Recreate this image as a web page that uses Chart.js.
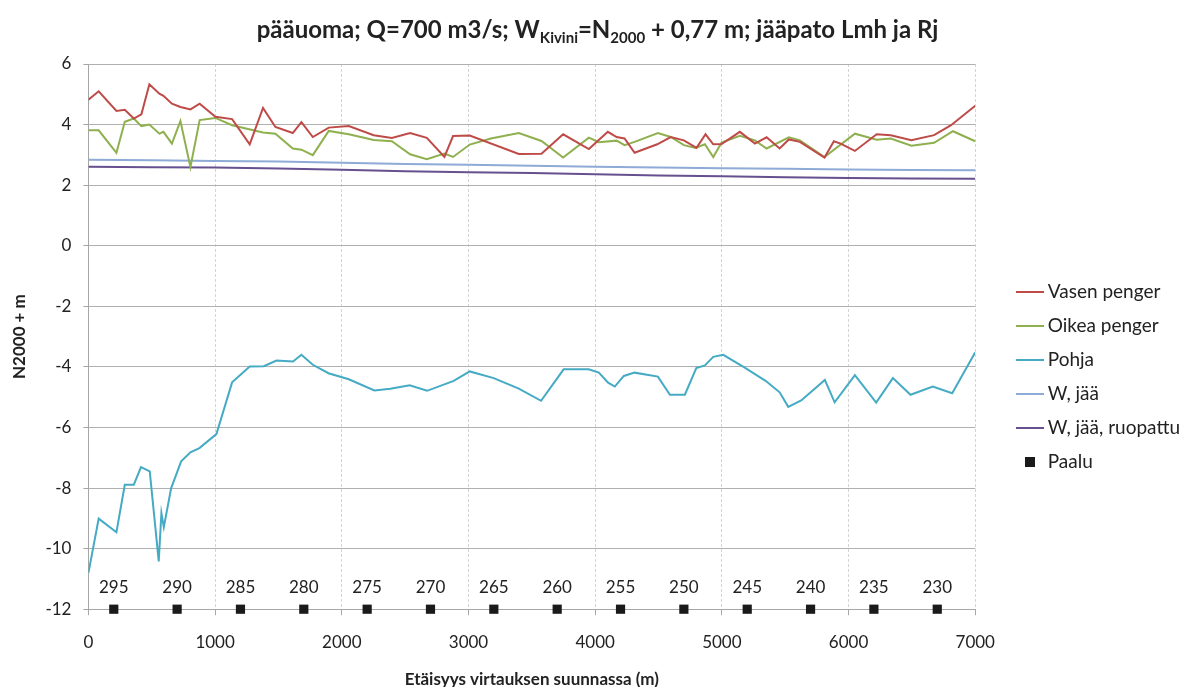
<!DOCTYPE html>
<html>
<head>
<meta charset="utf-8">
<script src="https://cdn.jsdelivr.net/npm/chart.js@4.4.1/dist/chart.umd.min.js"></script>
<style>
    html, body { margin: 0; padding: 0; background: #fff; }
    #wrap { width: 1183px; height: 687px; }
</style>
</head>
<body>
<div id="wrap"><canvas id="profileChart" width="1183" height="687"></canvas></div>
<script>
var vasenX = [0, 81, 221, 287, 358, 418, 481, 560, 592, 659, 726, 805, 878, 1002, 1134, 1273, 1378, 1476, 1613, 1681, 1771, 1897, 2055, 2252, 2395, 2539, 2671, 2810, 2878, 3010, 3397, 3576, 3747, 3950, 4100, 4169, 4232, 4311, 4490, 4596, 4700, 4800, 4871, 4932, 4998, 5142, 5261, 5353, 5456, 5529, 5616, 5810, 5884, 5937, 6050, 6222, 6333, 6496, 6675, 6809, 7000];
var vasenY = [4.82, 5.10, 4.45, 4.49, 4.20, 4.34, 5.33, 5.02, 4.95, 4.69, 4.58, 4.50, 4.69, 4.26, 4.18, 3.35, 4.55, 3.92, 3.72, 4.08, 3.59, 3.90, 3.95, 3.65, 3.56, 3.72, 3.56, 2.93, 3.62, 3.64, 3.03, 3.04, 3.68, 3.19, 3.76, 3.59, 3.54, 3.07, 3.35, 3.59, 3.48, 3.23, 3.68, 3.35, 3.36, 3.76, 3.37, 3.58, 3.21, 3.51, 3.43, 2.91, 3.45, 3.37, 3.13, 3.68, 3.65, 3.48, 3.65, 3.98, 4.62];

var oikeaX = [0, 81, 221, 287, 358, 418, 481, 560, 592, 659, 726, 805, 878, 1002, 1134, 1378, 1476, 1613, 1681, 1771, 1897, 2055, 2252, 2395, 2539, 2671, 2810, 2878, 3010, 3176, 3397, 3576, 3747, 3950, 4029, 4169, 4232, 4311, 4495, 4596, 4700, 4792, 4866, 4932, 4998, 5142, 5261, 5353, 5529, 5616, 5810, 6050, 6222, 6333, 6496, 6675, 6824, 7000];
var oikeaY = [3.81, 3.81, 3.07, 4.09, 4.20, 3.95, 4.00, 3.70, 3.76, 3.37, 4.12, 2.60, 4.15, 4.22, 3.98, 3.74, 3.70, 3.21, 3.17, 2.99, 3.79, 3.68, 3.49, 3.45, 3.02, 2.86, 3.04, 2.93, 3.34, 3.54, 3.72, 3.46, 2.91, 3.57, 3.42, 3.47, 3.32, 3.43, 3.72, 3.59, 3.32, 3.23, 3.35, 2.93, 3.41, 3.63, 3.48, 3.21, 3.58, 3.48, 2.93, 3.70, 3.50, 3.54, 3.30, 3.40, 3.78, 3.45];

var pohjaX = [0, 81, 221, 287, 358, 415, 484, 555, 576, 595, 653, 732, 805, 876, 1010, 1134, 1273, 1384, 1484, 1615, 1681, 1771, 1895, 2055, 2257, 2383, 2536, 2673, 2883, 3010, 3199, 3397, 3573, 3751, 3948, 4029, 4102, 4155, 4226, 4311, 4495, 4590, 4708, 4798, 4866, 4932, 5011, 5174, 5345, 5456, 5524, 5626, 5813, 5890, 6050, 6218, 6350, 6489, 6665, 6818, 7000];
var pohjaY = [-10.80, -9.01, -9.46, -7.89, -7.89, -7.31, -7.45, -10.42, -8.83, -9.29, -8.00, -7.12, -6.82, -6.68, -6.22, -4.51, -3.99, -3.98, -3.79, -3.82, -3.60, -3.93, -4.21, -4.41, -4.78, -4.72, -4.61, -4.79, -4.46, -4.15, -4.37, -4.72, -5.12, -4.08, -4.08, -4.19, -4.52, -4.65, -4.30, -4.19, -4.32, -4.92, -4.92, -4.04, -3.95, -3.67, -3.60, -4.01, -4.46, -4.84, -5.32, -5.11, -4.43, -5.17, -4.27, -5.18, -4.37, -4.92, -4.65, -4.87, -3.52];

var jaaX = [0, 500, 1000, 1500, 2000, 2500, 3000, 3500, 4000, 4500, 5000, 5500, 6000, 6500, 7000];
var jaaY = [2.84, 2.82, 2.80, 2.78, 2.74, 2.70, 2.67, 2.64, 2.61, 2.58, 2.56, 2.54, 2.52, 2.50, 2.49];
var ruopattuY = [2.61, 2.59, 2.58, 2.55, 2.51, 2.46, 2.43, 2.40, 2.36, 2.32, 2.29, 2.26, 2.24, 2.22, 2.21];

var paaluX = [200, 700, 1200, 1700, 2200, 2700, 3200, 3700, 4200, 4700, 5200, 5700, 6200, 6700];
var paaluY = [-12, -12, -12, -12, -12, -12, -12, -12, -12, -12, -12, -12, -12, -12];
var paaluLabels = ['295', '290', '285', '280', '275', '270', '265', '260', '255', '250', '245', '240', '235', '230'];

var FONT = 'Lato, "Open Sans", sans-serif';
var TEXT = '#222222';

function toPoints(xs, ys) {
    return xs.map(function (x, i) { return { x: x, y: ys[i] }; });
}

function legendIcon(ds) {
    var c = document.createElement('canvas');
    var g;
    if (ds.label === 'Paalu') {
        c.width = 10; c.height = 10;
        g = c.getContext('2d');
        g.fillStyle = '#1a1a1a';
        g.fillRect(0, 0, 10, 10);
    } else {
        c.width = 28; c.height = 4;
        g = c.getContext('2d');
        g.fillStyle = ds.borderColor;
        g.fillRect(0, 1, 28, 2);
    }
    return c;
}

// title with subscripts
var titlePlugin = {
    id: 'subTitle',
    afterDraw: function (chart) {
        var ctx = chart.ctx;
        var parts = [
            { t: 'pääuoma; Q=700 m3/s; W', sub: false },
            { t: 'Kivini', sub: true },
            { t: '=N', sub: false },
            { t: '2000', sub: true },
            { t: ' + 0,77 m; jääpato Lmh ja Rj', sub: false }
        ];
        var mainFont = 'bold 24px ' + FONT;
        var subFont = 'bold 15px ' + FONT;
        ctx.save();
        var total = 0;
        parts.forEach(function (p) {
            ctx.font = p.sub ? subFont : mainFont;
            p.w = ctx.measureText(p.t).width;
            total += p.w;
        });
        var x = chart.width / 2 - total / 2 + 6;
        var base = 38;
        ctx.fillStyle = TEXT;
        ctx.textBaseline = 'alphabetic';
        ctx.textAlign = 'left';
        parts.forEach(function (p) {
            ctx.font = p.sub ? subFont : mainFont;
            ctx.fillText(p.t, x, p.sub ? base + 5 : base);
            x += p.w;
        });
        ctx.restore();
    }
};

var paaluLabelPlugin = {
    id: 'paaluLabels',
    afterDatasetsDraw: function (chart) {
        var ctx = chart.ctx;
        var idx = chart.data.datasets.findIndex(function (d) { return d.label === 'Paalu'; });
        var meta = chart.getDatasetMeta(idx);
        ctx.save();
        ctx.font = '17px ' + FONT;
        ctx.fillStyle = TEXT;
        ctx.textAlign = 'center';
        ctx.textBaseline = 'middle';
        meta.data.forEach(function (pt, i) {
            ctx.fillText(paaluLabels[i], pt.x, pt.y - 22);
        });
        ctx.restore();
    }
};

function lineSet(label, xs, ys, color) {
    return {
        label: label,
        data: toPoints(xs, ys),
        borderColor: color,
        backgroundColor: color,
        borderWidth: 2,
        pointRadius: 0,
        tension: 0,
        fill: false
    };
}

var ctx = document.getElementById('profileChart').getContext('2d');
var profileChart = new Chart(ctx, {
    type: 'line',
    data: {
        datasets: [
            lineSet('Vasen penger', vasenX, vasenY, '#be4b48'),
            lineSet('Oikea penger', oikeaX, oikeaY, '#8fb04e'),
            lineSet('Pohja', pohjaX, pohjaY, '#45aac4'),
            lineSet('W, jää', jaaX, jaaY, '#8eaad6'),
            lineSet('W, jää, ruopattu', jaaX, ruopattuY, '#66508f'),
            {
                label: 'Paalu',
                data: toPoints(paaluX, paaluY),
                showLine: false,
                pointStyle: 'rect',
                pointRadius: 6.5,
                borderWidth: 0,
                backgroundColor: '#1a1a1a',
                borderColor: '#1a1a1a',
                clip: false
            }
        ]
    },
    options: {
        responsive: false,
        animation: false,
        layout: {
            padding: { top: 64, left: 9, right: -7, bottom: -3 }
        },
        scales: {
            x: {
                type: 'linear',
                min: 0,
                max: 7000,
                ticks: {
                    stepSize: 1000,
                    color: TEXT,
                    font: { family: FONT, size: 17 },
                    padding: 17,
                    maxRotation: 0,
                    callback: function (value) { return String(value); }
                },
                grid: {
                    color: '#d4d4d4',
                    tickColor: '#a6a6a6',
                    tickLength: 6
                },
                border: { display: true, color: '#a6a6a6', dash: [3, 2] },
                title: {
                    display: true,
                    text: 'Etäisyys virtauksen suunnassa (m)',
                    color: TEXT,
                    font: { family: FONT, size: 17, weight: 'bold' },
                    padding: { top: 0, bottom: 0 }
                }
            },
            y: {
                min: -12,
                max: 6,
                ticks: {
                    stepSize: 2,
                    color: TEXT,
                    font: { family: FONT, size: 17 },
                    padding: 12
                },
                grid: {
                    color: '#b0b0b0',
                    tickColor: '#a6a6a6',
                    tickLength: 5
                },
                border: { display: true, color: '#a6a6a6' },
                title: {
                    display: true,
                    text: 'N2000 + m',
                    color: TEXT,
                    font: { family: FONT, size: 17, weight: 'bold' },
                    padding: { top: 0, bottom: 4 }
                }
            },
            // empty strip between plot and legend
            gap: {
                position: 'right',
                display: true,
                ticks: { display: false },
                grid: { display: false },
                border: { display: false },
                afterFit: function (scale) { scale.width = 32; }
            }
        },
        plugins: {
            title: { display: false },
            tooltip: { enabled: false },
            legend: {
                position: 'right',
                align: 'center',
                labels: {
                    usePointStyle: true,
                    pointStyleWidth: 16,
                    padding: 15,
                    color: TEXT,
                    font: { family: FONT, size: 19 },
                    generateLabels: function (chart) {
                        var items = Chart.defaults.plugins.legend.labels.generateLabels(chart);
                        items.forEach(function (item) {
                            item.pointStyle = legendIcon(chart.data.datasets[item.datasetIndex]);
                        });
                        return items;
                    }
                }
            }
        }
    },
    plugins: [titlePlugin, paaluLabelPlugin]
});
</script>
</body>
</html>
